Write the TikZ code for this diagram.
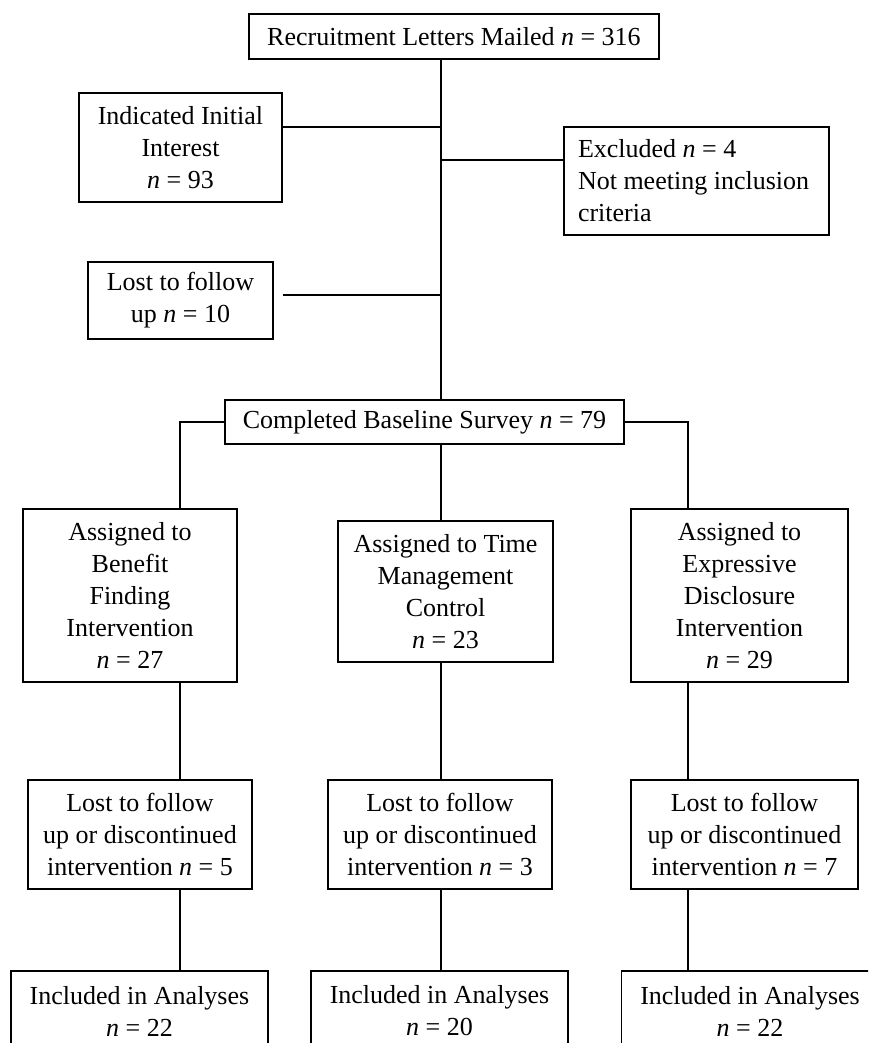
\documentclass[tikz,border=0pt]{standalone}
\usepackage{fontspec}
\setmainfont{Liberation Serif}
\usetikzlibrary{calc, positioning}
\tikzset{
  box/.style={draw, line width=0.75pt, align=center, inner sep=0pt,
    font=\fontsize{13}{16}\selectfont},
  link/.style={line width=0.75pt},
}
\newcommand{\nn}{\textit{n}}

\begin{document}
\begin{tikzpicture}[x=0.5pt, y=-0.5pt]
\useasboundingbox (0,0) rectangle (868,1043);
\clip (0,0) rectangle (868,1043);
% columns of the connectors
\coordinate (colA) at (180,0);
\coordinate (colB) at (441,0);
\coordinate (colC) at (688,0);
% recruitment
\node[box, minimum width=205pt, minimum height=22.5pt] (mailed) at (454,36.5)
  {Recruitment Letters Mailed \nn{} = 316};
\node[box, minimum width=101.5pt, minimum height=54.5pt] (interest) at (180.5,147.5)
  {Indicated Initial\\Interest\\\nn{} = 93};
\node[box, align=flush left, text width=118.5pt, minimum width=132.5pt, minimum height=54pt]
  (excluded) at (696.5,181)
  {Excluded \nn{} = 4\\\mbox{Not meeting inclusion}\\criteria};
\node[box, minimum width=92.5pt, minimum height=38.5pt] (lostten) at (180.5,300.5)
  {Lost to follow\\up \nn{} = 10};
\node[box, minimum width=199.5pt, minimum height=22pt] (baseline) at (424.5,422)
  {Completed Baseline Survey \nn{} = 79};
% groups
\node[box, minimum width=107pt, minimum height=86.5pt] (benefit) at (130,595.5)
  {Assigned to\\Benefit\\Finding\\Intervention\\\nn{} = 27};
\node[box, minimum width=107.5pt, minimum height=70.5pt] (timemgmt) at (445.5,591.5)
  {Assigned to Time\\Management\\Control\\\nn{} = 23};
\node[box, minimum width=108.5pt, minimum height=86.5pt] (expressive) at (739.5,595.5)
  {Assigned to\\Expressive\\Disclosure\\Intervention\\\nn{} = 29};
\foreach \name/\x/\w/\k in {lostA/140/112pt/5, lostB/440/112pt/3, lostC/744.5/113.5pt/7}
  \node[box, minimum width=\w, minimum height=54.5pt] (\name) at (\x,834.5)
    {Lost to follow\\up or discontinued\\intervention \nn{} = \k};
\foreach \name/\x/\k in {inclA/139.5/22, inclB/439.5/20, inclC/750/22}
  \node[box, minimum width=128.5pt, minimum height=40pt] (\name) at (\x,1011)
    {Included in Analyses\\\nn{} = \k};
% connectors
\coordinate (interestout) at ([yshift=10.25pt]interest.east);
\coordinate (excludedin) at ([yshift=10.5pt]excluded.west);
\coordinate (losttenout) at ([xshift=4.5pt, yshift=2.75pt]lostten.east);
\draw[link] (mailed.south -| colB) -- (baseline.north -| colB);
\draw[link] (interestout) -- (interestout -| colB);
\draw[link] (excludedin) -- (excludedin -| colB);
\draw[link] (losttenout) -- (losttenout -| colB);
\draw[link] (baseline.west) -| (benefit.north -| colA);
\draw[link] (baseline.south -| colB) -- (timemgmt.north -| colB);
\draw[link] (baseline.east) -| (expressive.north -| colC);
\draw[link] (benefit.south -| colA) -- (lostA.north -| colA);
\draw[link] (timemgmt.south -| colB) -- (lostB.north -| colB);
\draw[link] (expressive.south -| colC) -- (lostC.north -| colC);
\draw[link] (lostA.south -| colA) -- (inclA.north -| colA);
\draw[link] (lostB.south -| colB) -- (inclB.north -| colB);
\draw[link] (lostC.south -| colC) -- (inclC.north -| colC);
\end{tikzpicture}
\end{document}
